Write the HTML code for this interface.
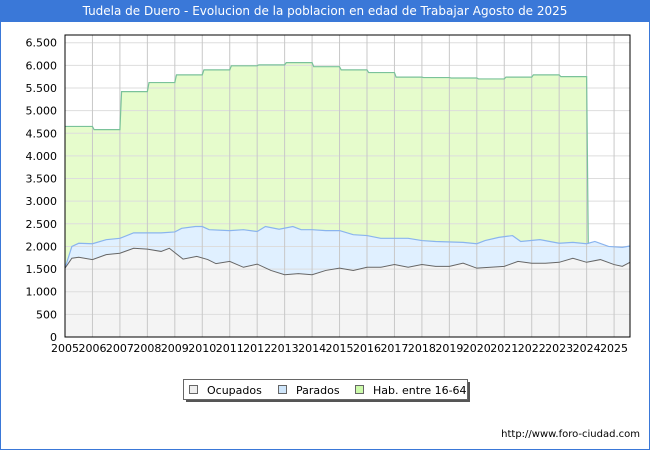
<!DOCTYPE html>
<html><head><meta charset="utf-8"><style>
body{margin:0;width:650px;height:450px;background:#fff;font-family:"DejaVu Sans","Liberation Sans",sans-serif;position:relative;overflow:hidden}
#frame{position:absolute;left:0;top:0;width:648px;height:448px;border:1px solid #3a78d8}
#title{position:absolute;left:0;top:0;width:650px;height:22px;background:#3a78d8;color:#fff;font-size:12px;line-height:22px;text-align:center}
svg{position:absolute;left:0;top:0}
</style></head><body>
<div id="frame"></div>
<div id="title">Tudela de Duero - Evolucion de la poblacion en edad de Trabajar Agosto de 2025</div>
<svg id="chart" width="650" height="450" font-family="DejaVu Sans, Liberation Sans, sans-serif"></svg>
<script>
const yTicks=[0,500,1000,1500,2000,2500,3000,3500,4000,4500,5000,5500,6000,6500];
const yLabels=["0","500","1.000","1.500","2.000","2.500","3.000","3.500","4.000","4.500","5.000","5.500","6.000","6.500"];
const years=[2005,2006,2007,2008,2009,2010,2011,2012,2013,2014,2015,2016,2017,2018,2019,2020,2021,2022,2023,2024,2025];
const habYears=[2005,2006,2007,2008,2009,2010,2011,2012,2013,2014,2015,2016,2017,2018,2019,2020,2021,2022,2023];
const habValues=[4650,4580,5420,5620,5790,5900,5990,6010,6060,5970,5900,5840,5740,5730,5720,5700,5740,5790,5750];
const parT=[2005,2005.25,2005.5,2006,2006.5,2007,2007.5,2008,2008.5,2009,2009.25,2009.75,2010,2010.25,2011,2011.5,2012,2012.3,2012.8,2013.3,2013.6,2014,2014.5,2015,2015.5,2016,2016.5,2017,2017.5,2018,2018.5,2019.5,2020,2020.3,2020.8,2021.3,2021.6,2022.3,2023,2023.5,2024,2024.3,2024.8,2025.3,2025.58];
const parV=[1520,2000,2070,2060,2150,2180,2300,2300,2300,2320,2400,2440,2440,2370,2350,2370,2330,2440,2380,2440,2370,2370,2350,2350,2260,2240,2180,2180,2180,2130,2110,2090,2060,2130,2200,2240,2110,2150,2070,2090,2060,2110,2000,1980,2010];
const ocuT=[2005,2005.25,2005.5,2006,2006.5,2007,2007.5,2008,2008.5,2008.8,2009.3,2009.8,2010.2,2010.5,2011,2011.5,2012,2012.5,2013,2013.5,2014,2014.5,2015,2015.5,2016,2016.5,2017,2017.5,2018,2018.5,2019,2019.5,2020,2020.5,2021,2021.5,2022,2022.5,2023,2023.5,2024,2024.5,2025,2025.3,2025.58];
const ocuV=[1520,1740,1760,1710,1820,1850,1960,1940,1890,1960,1720,1780,1710,1620,1670,1540,1610,1470,1375,1400,1375,1470,1520,1470,1540,1540,1600,1540,1600,1560,1560,1630,1520,1540,1560,1670,1630,1630,1650,1740,1650,1710,1600,1560,1650];
const X0=65,X1=630,Y0=337,YT=42.7,TEND=2025.58;
const xs=t=>X0+(t-2005)*(X1-X0)/(TEND-2005);
const ys=v=>Y0-v*(Y0-YT)/6500;
const svg=document.getElementById('chart');
const NS='http://www.w3.org/2000/svg';
function mk(tag,attrs,parent){const e=document.createElementNS(NS,tag);for(const k in attrs)e.setAttribute(k,attrs[k]);(parent||svg).appendChild(e);return e;}
let e=mk('rect',{x:X0,y:35,width:X1-X0,height:Y0-35,fill:'#fff'});


let hp=[];
habYears.forEach((y,i)=>{const v=habValues[i];hp.push([xs(y+(i?0.06:0)),ys(v)]);hp.push([xs(y+1),ys(v)]);});
let habD='M'+xs(2005)+','+Y0+' '+hp.map(p=>'L'+p[0]+','+p[1]).join(' ')+' L'+xs(2024.06)+','+ys(parV[parT.indexOf(2024)])+' L'+xs(2024)+','+Y0+' Z';
e=mk('path',{d:habD,fill:'#e6fccc',stroke:'none'});


const lineP=(T,V)=>T.map((t,i)=>(i?'L':'M')+xs(t)+','+ys(V[i])).join(' ');
e=mk('path',{d:lineP(parT,parV)+' L'+X1+','+Y0+' L'+X0+','+Y0+' Z',fill:'#e0f0ff'});


e=mk('path',{d:lineP(ocuT,ocuV)+' L'+X1+','+Y0+' L'+X0+','+Y0+' Z',fill:'#f4f4f4'});


yTicks.forEach((v,i)=>{
 if(v>0){e=mk('line',{x1:X0,x2:X1,y1:ys(v),y2:ys(v),stroke:'#ddd','stroke-width':1});
 
 }
 e=mk('text',{x:X0-8,y:ys(v)+4,'text-anchor':'end','font-size':'11',fill:'#000'});e.textContent=yLabels[i];
 
 
});
years.forEach(y=>{
 if(y>2005){e=mk('line',{x1:xs(y),x2:xs(y),y1:35,y2:Y0,stroke:'#c8c8c8','stroke-width':1});
 
 }
 e=mk('text',{x:xs(y),y:Y0+15,'text-anchor':'middle','font-size':'11',fill:'#000'});e.textContent=y;
 
 
});
e=mk('path',{d:'M'+hp.map(p=>p[0]+','+p[1]).join(' L')+' L'+xs(2024.06)+','+ys(2060),fill:'none',stroke:'#7ac29a','stroke-width':1.2});


e=mk('path',{d:lineP(parT,parV),fill:'none',stroke:'#8ab4ee','stroke-width':1.2});


e=mk('path',{d:lineP(ocuT,ocuV),fill:'none',stroke:'#666','stroke-width':1});


e=mk('rect',{x:X0,y:35,width:X1-X0,height:Y0-35,fill:'none',stroke:'#000','stroke-width':1});


e=mk('rect',{x:186,y:382,width:284,height:20,fill:'#555'});


e=mk('rect',{x:183.5,y:379.5,width:284,height:20,fill:'#fff',stroke:'#666'});


[[189,'#eeeeee','Ocupados',207],[278,'#cfe6fb','Parados',296],[355,'#ccfbaa','Hab. entre 16-64',373]].forEach(l=>{
 e=mk('rect',{x:l[0]+0.5,y:385.5,width:8,height:8,fill:l[1],stroke:'#666'});
 
 
 e=mk('text',{x:l[3],y:394,'font-size':'11',fill:'#000'});e.textContent=l[2];
 
 
});
e=mk('text',{x:640,y:437,'text-anchor':'end','font-size':'10',fill:'#000'});e.textContent='http://www.foro-ciudad.com';


</script>
</body></html>
